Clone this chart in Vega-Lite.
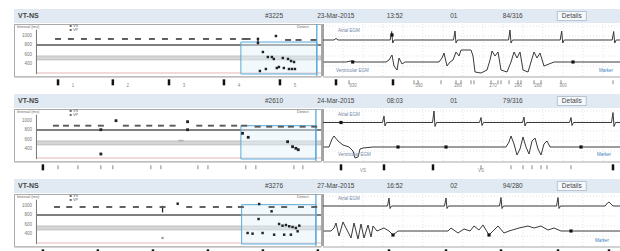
{
"$schema": "https://vega.github.io/schema/vega-lite/v6.json",
"padding": {"left": 13, "top": 9, "right": 0, "bottom": 0},
"background": "white",
"columns": 2,
"spacing": {"row": 1, "column": 0},
"bounds": "flush",
"config": {"view": {"stroke": null}, "text": {"font": "Liberation Sans"}, "line": {"strokeJoin": "round", "strokeCap": "round"}},
"datasets": {
"hdr": [
{"row":1,"col":"type","text":"VT-NS"},{"row":1,"col":"id","text":"#3225"},{"row":1,"col":"date","text":"23-Mar-2015"},{"row":1,"col":"time","text":"13:52"},{"row":1,"col":"zone","text":"01"},{"row":1,"col":"cycle","text":"84/316"},{"row":1,"col":"details","text":"Details"},
{"row":2,"col":"type","text":"VT-NS"},{"row":2,"col":"id","text":"#2610"},{"row":2,"col":"date","text":"24-Mar-2015"},{"row":2,"col":"time","text":"08:03"},{"row":2,"col":"zone","text":"01"},{"row":2,"col":"cycle","text":"79/316"},{"row":2,"col":"details","text":"Details"},
{"row":3,"col":"type","text":"VT-NS"},{"row":3,"col":"id","text":"#3276"},{"row":3,"col":"date","text":"27-Mar-2015"},{"row":3,"col":"time","text":"16:52"},{"row":3,"col":"zone","text":"02"},{"row":3,"col":"cycle","text":"94/280"},{"row":3,"col":"details","text":"Details"}
],
"pts": [
{"row":1,"t":1.44,"ms":933,"k":"d"},{"row":1,"t":2.3,"ms":933,"k":"d"},{"row":1,"t":3.17,"ms":933,"k":"d"},{"row":1,"t":4.1,"ms":933,"k":"d"},{"row":1,"t":4.97,"ms":933,"k":"d"},{"row":1,"t":5.91,"ms":933,"k":"d"},{"row":1,"t":6.78,"ms":933,"k":"d"},{"row":1,"t":7.71,"ms":933,"k":"d"},{"row":1,"t":8.58,"ms":933,"k":"d"},{"row":1,"t":9.51,"ms":933,"k":"d"},{"row":1,"t":10.38,"ms":933,"k":"d"},{"row":1,"t":11.32,"ms":933,"k":"d"},{"row":1,"t":12.18,"ms":933,"k":"d"},{"row":1,"t":13.12,"ms":933,"k":"d"},{"row":1,"t":13.9,"ms":933,"k":"d"},{"row":1,"t":14.1,"ms":933,"k":"d"},{"row":1,"t":16.8,"ms":912,"k":"d"},{"row":1,"t":17.5,"ms":912,"k":"d"},{"row":1,"t":18.5,"ms":912,"k":"d"},
{"row":1,"t":14.79,"ms":933,"k":"p"},{"row":1,"t":14.79,"ms":848,"k":"p"},{"row":1,"t":15.99,"ms":996,"k":"p"},{"row":1,"t":15.12,"ms":658,"k":"p"},{"row":1,"t":15.45,"ms":552,"k":"p"},{"row":1,"t":15.72,"ms":552,"k":"p"},{"row":1,"t":15.85,"ms":510,"k":"p"},{"row":1,"t":16.45,"ms":531,"k":"p"},{"row":1,"t":16.8,"ms":510,"k":"p"},{"row":1,"t":17.0,"ms":467,"k":"p"},{"row":1,"t":17.2,"ms":446,"k":"p"},{"row":1,"t":14.92,"ms":256,"k":"p"},{"row":1,"t":15.32,"ms":298,"k":"p"},{"row":1,"t":16.05,"ms":319,"k":"p"},{"row":1,"t":16.19,"ms":341,"k":"p"},{"row":1,"t":16.52,"ms":319,"k":"p"},{"row":1,"t":16.86,"ms":298,"k":"p"},{"row":1,"t":17.06,"ms":298,"k":"p"},{"row":1,"t":17.26,"ms":298,"k":"p"},
{"row":2,"t":1.3,"ms":897,"k":"d"},{"row":2,"t":1.97,"ms":897,"k":"d"},{"row":2,"t":2.7,"ms":897,"k":"d"},{"row":2,"t":3.46,"ms":897,"k":"d"},{"row":2,"t":4.3,"ms":897,"k":"d"},{"row":2,"t":5.97,"ms":897,"k":"d"},{"row":2,"t":6.76,"ms":897,"k":"d"},{"row":2,"t":7.53,"ms":897,"k":"d"},{"row":2,"t":8.31,"ms":897,"k":"d"},{"row":2,"t":9.09,"ms":897,"k":"d"},{"row":2,"t":10.87,"ms":897,"k":"d"},{"row":2,"t":11.65,"ms":897,"k":"d"},{"row":2,"t":12.43,"ms":897,"k":"d"},{"row":2,"t":13.2,"ms":897,"k":"d"},{"row":2,"t":13.87,"ms":897,"k":"d"},{"row":2,"t":14.77,"ms":876,"k":"d"},{"row":2,"t":15.54,"ms":876,"k":"d"},{"row":2,"t":16.32,"ms":876,"k":"d"},{"row":2,"t":16.99,"ms":876,"k":"d"},{"row":2,"t":17.77,"ms":876,"k":"d"},{"row":2,"t":18.55,"ms":876,"k":"d"},
{"row":2,"t":5.31,"ms":1003,"k":"p"},{"row":2,"t":10.09,"ms":981,"k":"p"},{"row":2,"t":4.3,"ms":812,"k":"p"},{"row":2,"t":10.09,"ms":812,"k":"p"},{"row":2,"t":13.76,"ms":736,"k":"p"},{"row":2,"t":14.14,"ms":651,"k":"p"},{"row":2,"t":4.3,"ms":298,"k":"p"},{"row":2,"t":16.77,"ms":558,"k":"p"},{"row":2,"t":17.1,"ms":453,"k":"p"},{"row":2,"t":17.32,"ms":419,"k":"p"},{"row":2,"t":17.48,"ms":389,"k":"p"},{"row":2,"t":9.65,"ms":580,"k":"g"},
{"row":3,"t":1.37,"ms":975,"k":"d"},{"row":3,"t":2.19,"ms":975,"k":"d"},{"row":3,"t":3.08,"ms":975,"k":"d"},{"row":3,"t":3.97,"ms":975,"k":"d"},{"row":3,"t":4.86,"ms":975,"k":"d"},{"row":3,"t":5.75,"ms":975,"k":"d"},{"row":3,"t":6.64,"ms":975,"k":"d"},{"row":3,"t":7.53,"ms":975,"k":"d"},{"row":3,"t":8.42,"ms":975,"k":"d"},{"row":3,"t":10.2,"ms":975,"k":"d"},{"row":3,"t":11.09,"ms":975,"k":"d"},{"row":3,"t":11.98,"ms":975,"k":"d"},{"row":3,"t":12.87,"ms":975,"k":"d"},{"row":3,"t":13.65,"ms":975,"k":"d"},{"row":3,"t":15.7,"ms":975,"k":"d"},{"row":3,"t":16.54,"ms":975,"k":"d"},{"row":3,"t":17.66,"ms":975,"k":"d"},{"row":3,"t":18.55,"ms":975,"k":"d"},
{"row":3,"t":9.43,"ms":1045,"k":"p"},{"row":3,"t":14.87,"ms":1038,"k":"p"},{"row":3,"t":15.7,"ms":884,"k":"p"},{"row":3,"t":14.83,"ms":721,"k":"p"},{"row":3,"t":16.2,"ms":616,"k":"p"},{"row":3,"t":16.43,"ms":580,"k":"p"},{"row":3,"t":16.66,"ms":594,"k":"p"},{"row":3,"t":16.88,"ms":567,"k":"p"},{"row":3,"t":17.1,"ms":552,"k":"p"},{"row":3,"t":17.32,"ms":531,"k":"p"},{"row":3,"t":17.55,"ms":580,"k":"p"},{"row":3,"t":14.1,"ms":425,"k":"p"},{"row":3,"t":14.43,"ms":411,"k":"p"},{"row":3,"t":15.1,"ms":425,"k":"p"},{"row":3,"t":15.87,"ms":389,"k":"p"},{"row":3,"t":16.54,"ms":389,"k":"p"},{"row":3,"t":16.99,"ms":389,"k":"p"},{"row":3,"t":17.44,"ms":461,"k":"p"},{"row":3,"t":8.42,"ms":319,"k":"g"}
],
"vbars": [{"row":1,"t":14.79,"lo":840,"hi":960},{"row":3,"t":8.42,"lo":860,"hi":1000}],
"box": [{"row":1,"t0":13.65,"t1":18.72,"lo":192,"hi":869},{"row":2,"t0":13.65,"t1":18.66,"lo":192,"hi":897},{"row":3,"t0":13.7,"t1":18.66,"lo":192,"hi":1024}],
"zones": [{"kind":"band","lo":490,"hi":575},{"kind":"dark","ms":806},{"kind":"pink","ms":214}],
"ylab": [{"ms":1000},{"ms":800},{"ms":600},{"ms":400}],
"plab": [{"t":-1.3,"ms":1190,"text":"Interval (ms)"},{"t":2.2,"ms":1208,"text":"■ VS"},{"t":2.2,"ms":1118,"text":"■ VP"},{"t":17.4,"ms":1190,"text":"Detect"}],
"edge": [{"t":0}],
"grid": [{"dir":"v","t":200},{"dir":"v","t":400},{"dir":"v","t":600},{"dir":"v","t":800},{"dir":"v","t":1000},{"dir":"v","t":1200},{"dir":"v","t":1400},{"dir":"v","t":1600},{"dir":"v","t":1800},{"dir":"v","t":2000},{"dir":"v","t":2200},{"dir":"v","t":2400},{"dir":"v","t":2600},{"dir":"v","t":2800},{"dir":"h","v":1},{"dir":"h","v":2},{"dir":"h","v":3},{"dir":"h","v":4},{"dir":"h","v":5}],
"egm": [
{"row":1,"ch":"A","t":0,"v":3.6},{"row":1,"ch":"A","t":110,"v":3.6},{"row":1,"ch":"A","t":130,"v":3.75},{"row":1,"ch":"A","t":150,"v":3.6},{"row":1,"ch":"A","t":672,"v":3.6},{"row":1,"ch":"A","t":687,"v":4.45},{"row":1,"ch":"A","t":697,"v":3.3},{"row":1,"ch":"A","t":712,"v":3.6},{"row":1,"ch":"A","t":1305,"v":3.6},{"row":1,"ch":"A","t":1320,"v":4.5},{"row":1,"ch":"A","t":1330,"v":3.3},{"row":1,"ch":"A","t":1345,"v":3.6},{"row":1,"ch":"A","t":1855,"v":3.6},{"row":1,"ch":"A","t":1870,"v":4.6},{"row":1,"ch":"A","t":1880,"v":3.3},{"row":1,"ch":"A","t":1895,"v":3.6},{"row":1,"ch":"A","t":2372,"v":3.6},{"row":1,"ch":"A","t":2387,"v":4.5},{"row":1,"ch":"A","t":2397,"v":3.3},{"row":1,"ch":"A","t":2412,"v":3.6},{"row":1,"ch":"A","t":2892,"v":3.6},{"row":1,"ch":"A","t":2907,"v":4.45},{"row":1,"ch":"A","t":2917,"v":3.3},{"row":1,"ch":"A","t":2932,"v":3.6},{"row":1,"ch":"A","t":2980,"v":3.6},
{"row":1,"ch":"V","t":10,"v":1.4},{"row":1,"ch":"V","t":230,"v":1.4},{"row":1,"ch":"V","t":280,"v":1.5},{"row":1,"ch":"V","t":330,"v":1.4},{"row":1,"ch":"V","t":630,"v":1.4},{"row":1,"ch":"V","t":660,"v":1.6},{"row":1,"ch":"V","t":690,"v":2.1},{"row":1,"ch":"V","t":710,"v":1.0},{"row":1,"ch":"V","t":740,"v":0.6},{"row":1,"ch":"V","t":760,"v":1.8},{"row":1,"ch":"V","t":790,"v":1.2},{"row":1,"ch":"V","t":820,"v":1.4},{"row":1,"ch":"V","t":1160,"v":1.4},{"row":1,"ch":"V","t":1190,"v":1.8},{"row":1,"ch":"V","t":1210,"v":2.3},{"row":1,"ch":"V","t":1240,"v":1.0},{"row":1,"ch":"V","t":1270,"v":1.4},{"row":1,"ch":"V","t":1300,"v":1.6},{"row":1,"ch":"V","t":1330,"v":2.4},{"row":1,"ch":"V","t":1360,"v":2.0},{"row":1,"ch":"V","t":1380,"v":2.6},{"row":1,"ch":"V","t":1430,"v":2.6},{"row":1,"ch":"V","t":1480,"v":2.6},{"row":1,"ch":"V","t":1500,"v":2.0},{"row":1,"ch":"V","t":1520,"v":0.4},{"row":1,"ch":"V","t":1580,"v":0.3},{"row":1,"ch":"V","t":1640,"v":0.6},{"row":1,"ch":"V","t":1670,"v":1.6},{"row":1,"ch":"V","t":1690,"v":2.5},{"row":1,"ch":"V","t":1720,"v":2.0},{"row":1,"ch":"V","t":1750,"v":2.4},{"row":1,"ch":"V","t":1780,"v":0.6},{"row":1,"ch":"V","t":1840,"v":0.4},{"row":1,"ch":"V","t":1880,"v":1.4},{"row":1,"ch":"V","t":1910,"v":2.4},{"row":1,"ch":"V","t":1940,"v":1.8},{"row":1,"ch":"V","t":1970,"v":2.4},{"row":1,"ch":"V","t":2000,"v":0.6},{"row":1,"ch":"V","t":2050,"v":0.4},{"row":1,"ch":"V","t":2080,"v":1.4},{"row":1,"ch":"V","t":2110,"v":2.4},{"row":1,"ch":"V","t":2140,"v":1.8},{"row":1,"ch":"V","t":2170,"v":2.3},{"row":1,"ch":"V","t":2210,"v":1.0},{"row":1,"ch":"V","t":2260,"v":1.2},{"row":1,"ch":"V","t":2310,"v":1.4},{"row":1,"ch":"V","t":2980,"v":1.4},
{"row":2,"ch":"A","t":0,"v":3.85},{"row":2,"ch":"A","t":595,"v":3.85},{"row":2,"ch":"A","t":610,"v":4.5},{"row":2,"ch":"A","t":620,"v":3.5},{"row":2,"ch":"A","t":635,"v":3.85},{"row":2,"ch":"A","t":1095,"v":3.85},{"row":2,"ch":"A","t":1110,"v":5.0},{"row":2,"ch":"A","t":1120,"v":3.45},{"row":2,"ch":"A","t":1135,"v":3.85},{"row":2,"ch":"A","t":1565,"v":3.85},{"row":2,"ch":"A","t":1580,"v":4.35},{"row":2,"ch":"A","t":1590,"v":3.55},{"row":2,"ch":"A","t":1605,"v":3.85},{"row":2,"ch":"A","t":1995,"v":3.85},{"row":2,"ch":"A","t":2010,"v":4.4},{"row":2,"ch":"A","t":2020,"v":3.5},{"row":2,"ch":"A","t":2035,"v":3.85},{"row":2,"ch":"A","t":2465,"v":3.85},{"row":2,"ch":"A","t":2480,"v":4.35},{"row":2,"ch":"A","t":2490,"v":3.55},{"row":2,"ch":"A","t":2505,"v":3.85},{"row":2,"ch":"A","t":2885,"v":3.85},{"row":2,"ch":"A","t":2900,"v":4.85},{"row":2,"ch":"A","t":2910,"v":3.45},{"row":2,"ch":"A","t":2925,"v":3.85},{"row":2,"ch":"A","t":2980,"v":3.85},
{"row":2,"ch":"V","t":10,"v":1.4},{"row":2,"ch":"V","t":60,"v":1.4},{"row":2,"ch":"V","t":90,"v":2.2},{"row":2,"ch":"V","t":110,"v":2.5},{"row":2,"ch":"V","t":150,"v":2.0},{"row":2,"ch":"V","t":200,"v":1.6},{"row":2,"ch":"V","t":260,"v":1.4},{"row":2,"ch":"V","t":300,"v":1.0},{"row":2,"ch":"V","t":320,"v":0.3},{"row":2,"ch":"V","t":350,"v":0.4},{"row":2,"ch":"V","t":370,"v":1.2},{"row":2,"ch":"V","t":400,"v":1.3},{"row":2,"ch":"V","t":500,"v":1.4},{"row":2,"ch":"V","t":1830,"v":1.4},{"row":2,"ch":"V","t":1860,"v":1.9},{"row":2,"ch":"V","t":1880,"v":2.5},{"row":2,"ch":"V","t":1910,"v":1.7},{"row":2,"ch":"V","t":1940,"v":0.6},{"row":2,"ch":"V","t":1970,"v":1.2},{"row":2,"ch":"V","t":2000,"v":2.4},{"row":2,"ch":"V","t":2030,"v":1.4},{"row":2,"ch":"V","t":2060,"v":0.7},{"row":2,"ch":"V","t":2090,"v":2.0},{"row":2,"ch":"V","t":2120,"v":2.3},{"row":2,"ch":"V","t":2150,"v":1.2},{"row":2,"ch":"V","t":2180,"v":0.6},{"row":2,"ch":"V","t":2210,"v":1.7},{"row":2,"ch":"V","t":2240,"v":2.0},{"row":2,"ch":"V","t":2270,"v":1.4},{"row":2,"ch":"V","t":2980,"v":1.4},
{"row":3,"ch":"A","t":0,"v":4.0},{"row":3,"ch":"A","t":645,"v":4.0},{"row":3,"ch":"A","t":660,"v":4.8},{"row":3,"ch":"A","t":670,"v":3.75},{"row":3,"ch":"A","t":685,"v":4.0},{"row":3,"ch":"A","t":1215,"v":4.0},{"row":3,"ch":"A","t":1230,"v":4.8},{"row":3,"ch":"A","t":1240,"v":3.75},{"row":3,"ch":"A","t":1255,"v":4.0},{"row":3,"ch":"A","t":1765,"v":4.0},{"row":3,"ch":"A","t":1780,"v":4.85},{"row":3,"ch":"A","t":1790,"v":3.75},{"row":3,"ch":"A","t":1805,"v":4.0},{"row":3,"ch":"A","t":2335,"v":4.0},{"row":3,"ch":"A","t":2350,"v":4.85},{"row":3,"ch":"A","t":2360,"v":3.75},{"row":3,"ch":"A","t":2375,"v":4.0},{"row":3,"ch":"A","t":2820,"v":4.0},{"row":3,"ch":"A","t":2845,"v":4.3},{"row":3,"ch":"A","t":2860,"v":4.4},{"row":3,"ch":"A","t":2880,"v":4.2},{"row":3,"ch":"A","t":2900,"v":4.0},{"row":3,"ch":"A","t":2980,"v":4.0},
{"row":3,"ch":"V","t":10,"v":1.5},{"row":3,"ch":"V","t":80,"v":1.5},{"row":3,"ch":"V","t":110,"v":1.8},{"row":3,"ch":"V","t":130,"v":2.3},{"row":3,"ch":"V","t":160,"v":1.0},{"row":3,"ch":"V","t":200,"v":2.4},{"row":3,"ch":"V","t":230,"v":1.8},{"row":3,"ch":"V","t":280,"v":0.8},{"row":3,"ch":"V","t":310,"v":2.3},{"row":3,"ch":"V","t":350,"v":0.7},{"row":3,"ch":"V","t":380,"v":2.2},{"row":3,"ch":"V","t":410,"v":0.8},{"row":3,"ch":"V","t":450,"v":2.1},{"row":3,"ch":"V","t":480,"v":0.9},{"row":3,"ch":"V","t":500,"v":2.0},{"row":3,"ch":"V","t":540,"v":1.5},{"row":3,"ch":"V","t":610,"v":1.8},{"row":3,"ch":"V","t":660,"v":1.5},{"row":3,"ch":"V","t":700,"v":1.1},{"row":3,"ch":"V","t":750,"v":1.5},{"row":3,"ch":"V","t":1250,"v":1.5},{"row":3,"ch":"V","t":1280,"v":1.8},{"row":3,"ch":"V","t":1350,"v":1.3},{"row":3,"ch":"V","t":1410,"v":1.7},{"row":3,"ch":"V","t":1470,"v":1.5},{"row":3,"ch":"V","t":1510,"v":2.0},{"row":3,"ch":"V","t":1560,"v":1.6},{"row":3,"ch":"V","t":1600,"v":2.1},{"row":3,"ch":"V","t":1660,"v":1.1},{"row":3,"ch":"V","t":1700,"v":1.5},{"row":3,"ch":"V","t":1750,"v":2.0},{"row":3,"ch":"V","t":1810,"v":1.3},{"row":3,"ch":"V","t":1860,"v":1.5},{"row":3,"ch":"V","t":1960,"v":1.8},{"row":3,"ch":"V","t":2050,"v":2.0},{"row":3,"ch":"V","t":2110,"v":1.8},{"row":3,"ch":"V","t":2180,"v":2.0},{"row":3,"ch":"V","t":2250,"v":1.6},{"row":3,"ch":"V","t":2310,"v":1.8},{"row":3,"ch":"V","t":2380,"v":1.5},{"row":3,"ch":"V","t":2980,"v":1.5}
],
"dots": [{"row":1,"t":297,"v":1.4},{"row":1,"t":2500,"v":1.4},{"row":1,"t":690,"v":4.1},{"row":2,"t":750,"v":1.4},{"row":2,"t":1230,"v":1.4},{"row":2,"t":2580,"v":1.4},{"row":2,"t":180,"v":3.85},{"row":3,"t":700,"v":1.1},{"row":3,"t":1660,"v":1.1},{"row":3,"t":2480,"v":1.5}],
"elab": [
{"row":1,"t":150,"v":4.5,"text":"Atrial EGM","k":"l"},{"row":1,"t":130,"v":0.5,"text":"Ventricular EGM","k":"l"},{"row":1,"t":2900,"v":0.5,"text":"Marker","k":"r"},
{"row":2,"t":150,"v":4.6,"text":"Atrial EGM","k":"l"},{"row":2,"t":150,"v":0.6,"text":"Ventricular EGM","k":"l"},{"row":2,"t":2880,"v":0.6,"text":"Marker","k":"r"},
{"row":3,"t":150,"v":4.7,"text":"Atrial EGM","k":"l"},{"row":3,"t":2860,"v":0.5,"text":"Marker","k":"r"}
],
"mk": [
{"row":1,"side":"L","t":1.44,"k":"b"},{"row":1,"side":"L","t":5.1,"k":"b"},{"row":1,"side":"L","t":8.85,"k":"b"},{"row":1,"side":"L","t":12.52,"k":"b"},{"row":1,"side":"L","t":16.26,"k":"b"},
{"row":1,"side":"L","t":2.44,"k":"n","lab":"1"},{"row":1,"side":"L","t":6.1,"k":"n","lab":"2"},{"row":1,"side":"L","t":9.85,"k":"n","lab":"3"},{"row":1,"side":"L","t":13.52,"k":"n","lab":"4"},{"row":1,"side":"L","t":17.26,"k":"n","lab":"5"},
{"row":1,"side":"R","t":130,"k":"b"},{"row":1,"side":"R","t":700,"k":"b"},{"row":1,"side":"R","t":260,"k":"g"},{"row":1,"side":"R","t":910,"k":"g"},{"row":1,"side":"R","t":950,"k":"g"},{"row":1,"side":"R","t":1180,"k":"g"},{"row":1,"side":"R","t":1330,"k":"g"},{"row":1,"side":"R","t":1380,"k":"g"},{"row":1,"side":"R","t":1480,"k":"g"},{"row":1,"side":"R","t":1510,"k":"g"},{"row":1,"side":"R","t":1680,"k":"g"},{"row":1,"side":"R","t":1750,"k":"g"},{"row":1,"side":"R","t":1780,"k":"g"},{"row":1,"side":"R","t":1860,"k":"g"},{"row":1,"side":"R","t":1950,"k":"g"},{"row":1,"side":"R","t":1980,"k":"g"},{"row":1,"side":"R","t":2110,"k":"g"},{"row":1,"side":"R","t":2180,"k":"g"},{"row":1,"side":"R","t":2380,"k":"g"},{"row":1,"side":"R","t":2900,"k":"g"},
{"row":1,"side":"R","t":300,"k":"n","lab":"930"},{"row":1,"side":"R","t":960,"k":"n","lab":"590"},{"row":1,"side":"R","t":1350,"k":"n","lab":"280"},{"row":1,"side":"R","t":1700,"k":"n","lab":"270"},{"row":1,"side":"R","t":1950,"k":"n","lab":"290"},{"row":1,"side":"R","t":2150,"k":"n","lab":"280"},{"row":1,"side":"R","t":2400,"k":"n","lab":"300"},
{"row":2,"side":"L","t":0.43,"k":"b"},{"row":2,"side":"L","t":1.44,"k":"g"},{"row":2,"side":"L","t":2.77,"k":"g"},{"row":2,"side":"L","t":4.3,"k":"g"},{"row":2,"side":"L","t":5.1,"k":"g"},{"row":2,"side":"L","t":7.64,"k":"g"},{"row":2,"side":"L","t":8.31,"k":"g"},{"row":2,"side":"L","t":10.78,"k":"g"},{"row":2,"side":"L","t":11.45,"k":"g"},{"row":2,"side":"L","t":13.98,"k":"g"},{"row":2,"side":"L","t":14.65,"k":"g"},{"row":2,"side":"L","t":17.19,"k":"g"},{"row":2,"side":"L","t":17.79,"k":"g"},
{"row":2,"side":"R","t":180,"k":"b"},{"row":2,"side":"R","t":610,"k":"b"},{"row":2,"side":"R","t":1100,"k":"b"},{"row":2,"side":"R","t":2900,"k":"b"},{"row":2,"side":"R","t":1580,"k":"g"},{"row":2,"side":"R","t":1880,"k":"g"},{"row":2,"side":"R","t":2000,"k":"g"},{"row":2,"side":"R","t":2090,"k":"g"},{"row":2,"side":"R","t":2180,"k":"g"},{"row":2,"side":"R","t":2240,"k":"g"},{"row":2,"side":"R","t":2480,"k":"g"},
{"row":2,"side":"R","t":400,"k":"n","lab":"VS"},{"row":2,"side":"R","t":1580,"k":"n","lab":"VS"},
{"row":3,"side":"L","t":0.43,"k":"b"},{"row":3,"side":"L","t":4.1,"k":"b"},{"row":3,"side":"L","t":7.78,"k":"b"},{"row":3,"side":"L","t":11.45,"k":"b"},{"row":3,"side":"L","t":15.12,"k":"b"},{"row":3,"side":"L","t":18.79,"k":"b"},
{"row":3,"side":"R","t":660,"k":"b"},{"row":3,"side":"R","t":1230,"k":"b"},{"row":3,"side":"R","t":1780,"k":"b"},{"row":3,"side":"R","t":2350,"k":"b"},{"row":3,"side":"R","t":2860,"k":"b"}
]
},
"concat": [
 {"width": 309, "height": 14, "view": {"fill": "#e1eaf3"}, "data": {"name": "hdr"}, "transform": [{"filter": "datum.row == 1 && (datum.col == 'type' || datum.col == 'id')"}],
  "encoding": {"x": {"field": "col", "type": "nominal", "scale": {"type": "point", "domain": ["type","id"], "padding": 0.1035, "align": 0.0755}, "axis": null}},
  "layer": [
   {"transform": [{"filter": "datum.col == 'type'"}], "mark": {"type": "text", "align": "left", "fontSize": 7, "fontWeight": "bold", "color": "#444"}, "encoding": {"text": {"field": "text"}}},
   {"transform": [{"filter": "datum.col == 'id'"}], "mark": {"type": "text", "fontSize": 6.5, "color": "#444"}, "encoding": {"text": {"field": "text"}}}
  ]},
 {"width": 298, "height": 14, "view": {"fill": "#e1eaf3"}, "data": {"name": "hdr"}, "transform": [{"filter": "datum.row == 1 && datum.col != 'type' && datum.col != 'id'"}],
  "encoding": {"x": {"field": "col", "type": "nominal", "scale": {"type": "point", "domain": ["date","time","zone","cycle","details"], "padding": 0.525, "align": 0.206}, "axis": null}},
  "layer": [
   {"transform": [{"filter": "datum.col == 'details'"}], "mark": {"type": "point", "shape": "M-1,-0.31H1V0.31H-1Z", "size": 841, "filled": true, "fill": "#f6f9fc", "stroke": "#9fb0c2", "strokeWidth": 0.7, "opacity": 1}},
   {"mark": {"type": "text", "fontSize": 6.5, "color": "#444"}, "encoding": {"text": {"field": "text"}}}
  ]},
 {"width": 307, "height": 52, "view": {"stroke": "#a9a9a9"},
  "layer": [
   {"data": {"name": "zones"}, "transform": [{"filter": "datum.kind == 'band'"}], "mark": {"type": "rect", "fill": "#d6d6d6", "stroke": "#aaaaaa", "strokeWidth": 0.6},
    "encoding": {"x": {"datum": 0, "type": "quantitative", "scale": {"domain": [-1.5, 19], "nice": false, "zero": false}, "axis": null}, "x2": {"datum": 19}, "y": {"field": "lo", "type": "quantitative", "scale": {"domain": [150, 1250], "nice": false, "zero": false}, "axis": null}, "y2": {"field": "hi"}}},
   {"data": {"name": "zones"}, "transform": [{"filter": "datum.kind == 'dark'"}], "mark": {"type": "rule", "color": "#555", "strokeWidth": 1.5},
    "encoding": {"x": {"datum": 0, "type": "quantitative", "axis": null}, "x2": {"datum": 19}, "y": {"field": "ms", "type": "quantitative", "axis": null}}},
   {"data": {"name": "zones"}, "transform": [{"filter": "datum.kind == 'pink'"}], "mark": {"type": "rule", "color": "#e6b5b5", "strokeWidth": 1},
    "encoding": {"x": {"datum": 0, "type": "quantitative", "axis": null}, "x2": {"datum": 19}, "y": {"field": "ms", "type": "quantitative", "axis": null}}},
   {"data": {"name": "edge"}, "mark": {"type": "rule", "color": "#777", "strokeWidth": 1},
    "encoding": {"x": {"field": "t", "type": "quantitative", "axis": null}, "y": {"datum": 190, "type": "quantitative", "axis": null}, "y2": {"datum": 1130}}},
   {"data": {"name": "ylab"}, "mark": {"type": "text", "align": "right", "fontSize": 4.5, "color": "#777"},
    "encoding": {"x": {"datum": -0.3, "type": "quantitative", "axis": null}, "y": {"field": "ms", "type": "quantitative", "axis": null}, "text": {"field": "ms"}}},
   {"data": {"name": "plab"}, "mark": {"type": "text", "align": "left", "fontSize": 4, "color": "#666"},
    "encoding": {"x": {"field": "t", "type": "quantitative", "axis": null}, "y": {"field": "ms", "type": "quantitative", "axis": null}, "text": {"field": "text"}}},
   {"data": {"name": "box"}, "transform": [{"filter": "datum.row == 1"}], "mark": {"type": "rect", "fill": "#e3f1fb", "fillOpacity": 0.45, "stroke": "#5aaad9", "strokeWidth": 1},
    "encoding": {"x": {"field": "t0", "type": "quantitative", "axis": null}, "x2": {"field": "t1"}, "y": {"field": "lo", "type": "quantitative", "axis": null}, "y2": {"field": "hi"}}},
   {"data": {"name": "box"}, "transform": [{"filter": "datum.row == 1"}], "mark": {"type": "rule", "color": "#5aaad9", "strokeWidth": 1.3},
    "encoding": {"x": {"field": "t1", "type": "quantitative", "axis": null}}},
   {"data": {"name": "vbars"}, "transform": [{"filter": "datum.row == 1"}], "mark": {"type": "rule", "color": "#222", "strokeWidth": 1.3},
    "encoding": {"x": {"field": "t", "type": "quantitative", "axis": null}, "y": {"field": "lo", "type": "quantitative", "axis": null}, "y2": {"field": "hi"}}},
   {"data": {"name": "pts"}, "transform": [{"filter": "datum.row == 1 && datum.k == 'd'"}], "mark": {"type": "point", "shape": "M-1,-0.32H1V0.32H-1Z", "size": 36, "filled": true, "color": "#5a5a5a", "opacity": 1},
    "encoding": {"x": {"field": "t", "type": "quantitative", "axis": null}, "y": {"field": "ms", "type": "quantitative", "axis": null}}},
   {"data": {"name": "pts"}, "transform": [{"filter": "datum.row == 1 && datum.k == 'p'"}], "mark": {"type": "point", "shape": "square", "size": 6, "filled": true, "color": "#222", "opacity": 1},
    "encoding": {"x": {"field": "t", "type": "quantitative", "axis": null}, "y": {"field": "ms", "type": "quantitative", "axis": null}}}
  ]},
 {"width": 298, "height": 52,
  "layer": [
   {"data": {"name": "grid"}, "transform": [{"filter": "datum.dir == 'v'"}], "mark": {"type": "rule", "color": "#e4e4e4", "strokeDash": [1, 2]},
    "encoding": {"x": {"field": "t", "type": "quantitative", "scale": {"domain": [0, 2980], "nice": false, "zero": false}, "axis": null}}},
   {"data": {"name": "grid"}, "transform": [{"filter": "datum.dir == 'h'"}], "mark": {"type": "rule", "color": "#e4e4e4", "strokeDash": [1, 2]},
    "encoding": {"y": {"field": "v", "type": "quantitative", "scale": {"domain": [0, 5.2], "nice": false, "zero": false}, "axis": null}}},
   {"data": {"name": "edge"}, "mark": {"type": "rule", "color": "#666", "strokeWidth": 1.2},
    "encoding": {"x": {"field": "t", "type": "quantitative", "axis": null}}},
   {"data": {"name": "egm"}, "transform": [{"filter": "datum.row == 1"}], "mark": {"type": "line", "color": "#3a3a3a", "strokeWidth": 1, "clip": true},
    "encoding": {"x": {"field": "t", "type": "quantitative", "axis": null}, "y": {"field": "v", "type": "quantitative", "axis": null}, "detail": {"field": "ch"}}},
   {"data": {"name": "dots"}, "transform": [{"filter": "datum.row == 1"}], "mark": {"type": "point", "shape": "square", "size": 10, "filled": true, "color": "#111", "opacity": 1},
    "encoding": {"x": {"field": "t", "type": "quantitative", "axis": null}, "y": {"field": "v", "type": "quantitative", "axis": null}}},
   {"data": {"name": "elab"}, "transform": [{"filter": "datum.row == 1 && datum.k == 'l'"}], "mark": {"type": "text", "align": "left", "fontSize": 4.5, "color": "#6f86a6"},
    "encoding": {"x": {"field": "t", "type": "quantitative", "axis": null}, "y": {"field": "v", "type": "quantitative", "axis": null}, "text": {"field": "text"}}},
   {"data": {"name": "elab"}, "transform": [{"filter": "datum.row == 1 && datum.k == 'r'"}], "mark": {"type": "text", "align": "right", "fontSize": 4.5, "color": "#3d7fc0"},
    "encoding": {"x": {"field": "t", "type": "quantitative", "axis": null}, "y": {"field": "v", "type": "quantitative", "axis": null}, "text": {"field": "text"}}}
  ]},
 {"width": 307, "height": 16, "layer": [
   {"data": {"values": [{"lane": "top"}]}, "mark": {"type": "rule", "color": "#c4c4c4", "strokeWidth": 1.5},
    "encoding": {"y": {"field": "lane", "type": "nominal", "scale": {"type": "point", "domain": ["top","tick","num","pad"], "padding": 0}, "axis": null}}},
   {"data": {"name": "mk"}, "transform": [{"filter": "datum.row == 1 && datum.side == 'L' && datum.k == 'b'"}], "mark": {"type": "tick", "color": "#111", "size": 6, "thickness": 2.5, "opacity": 1},
    "encoding": {"x": {"field": "t", "type": "quantitative", "scale": {"domain": [-1.5, 19], "nice": false, "zero": false}, "axis": null}, "y": {"datum": "tick", "type": "nominal", "axis": null}}},
   {"data": {"name": "mk"}, "transform": [{"filter": "datum.row == 1 && datum.side == 'L' && datum.k == 'n'"}], "mark": {"type": "text", "color": "#888", "fontSize": 4.5, "baseline": "bottom"},
    "encoding": {"x": {"field": "t", "type": "quantitative", "axis": null}, "y": {"datum": "num", "type": "nominal", "axis": null}, "text": {"field": "lab"}}}
 ]},
 {"width": 298, "height": 16, "layer": [
   {"data": {"values": [{"lane": "top"}]}, "mark": {"type": "rule", "color": "#c4c4c4", "strokeWidth": 1.5},
    "encoding": {"y": {"field": "lane", "type": "nominal", "scale": {"type": "point", "domain": ["top","tick","num","pad"], "padding": 0}, "axis": null}}},
   {"data": {"name": "mk"}, "transform": [{"filter": "datum.row == 1 && datum.side == 'R' && datum.k == 'b'"}], "mark": {"type": "tick", "color": "#111", "size": 6, "thickness": 2.5, "opacity": 1},
    "encoding": {"x": {"field": "t", "type": "quantitative", "scale": {"domain": [0, 2980], "nice": false, "zero": false}, "axis": null}, "y": {"datum": "tick", "type": "nominal", "axis": null}}},
   {"data": {"name": "mk"}, "transform": [{"filter": "datum.row == 1 && datum.side == 'R' && datum.k == 'g'"}], "mark": {"type": "tick", "color": "#888", "size": 4, "thickness": 1, "opacity": 1},
    "encoding": {"x": {"field": "t", "type": "quantitative", "axis": null}, "y": {"datum": "tick", "type": "nominal", "axis": null}}},
   {"data": {"name": "mk"}, "transform": [{"filter": "datum.row == 1 && datum.side == 'R' && datum.k == 'n'"}], "mark": {"type": "text", "color": "#888", "fontSize": 4.5, "baseline": "bottom"},
    "encoding": {"x": {"field": "t", "type": "quantitative", "axis": null}, "y": {"datum": "num", "type": "nominal", "axis": null}, "text": {"field": "lab"}}}
 ]},

 {"width": 309, "height": 14, "view": {"fill": "#e1eaf3"}, "data": {"name": "hdr"}, "transform": [{"filter": "datum.row == 2 && (datum.col == 'type' || datum.col == 'id')"}],
  "encoding": {"x": {"field": "col", "type": "nominal", "scale": {"type": "point", "domain": ["type","id"], "padding": 0.1035, "align": 0.0755}, "axis": null}},
  "layer": [
   {"transform": [{"filter": "datum.col == 'type'"}], "mark": {"type": "text", "align": "left", "fontSize": 7, "fontWeight": "bold", "color": "#444"}, "encoding": {"text": {"field": "text"}}},
   {"transform": [{"filter": "datum.col == 'id'"}], "mark": {"type": "text", "fontSize": 6.5, "color": "#444"}, "encoding": {"text": {"field": "text"}}}
  ]},
 {"width": 298, "height": 14, "view": {"fill": "#e1eaf3"}, "data": {"name": "hdr"}, "transform": [{"filter": "datum.row == 2 && datum.col != 'type' && datum.col != 'id'"}],
  "encoding": {"x": {"field": "col", "type": "nominal", "scale": {"type": "point", "domain": ["date","time","zone","cycle","details"], "padding": 0.525, "align": 0.206}, "axis": null}},
  "layer": [
   {"transform": [{"filter": "datum.col == 'details'"}], "mark": {"type": "point", "shape": "M-1,-0.31H1V0.31H-1Z", "size": 841, "filled": true, "fill": "#f6f9fc", "stroke": "#9fb0c2", "strokeWidth": 0.7, "opacity": 1}},
   {"mark": {"type": "text", "fontSize": 6.5, "color": "#444"}, "encoding": {"text": {"field": "text"}}}
  ]},
 {"width": 307, "height": 52, "view": {"stroke": "#a9a9a9"},
  "layer": [
   {"data": {"name": "zones"}, "transform": [{"filter": "datum.kind == 'band'"}], "mark": {"type": "rect", "fill": "#d6d6d6", "stroke": "#aaaaaa", "strokeWidth": 0.6},
    "encoding": {"x": {"datum": 0, "type": "quantitative", "scale": {"domain": [-1.5, 19], "nice": false, "zero": false}, "axis": null}, "x2": {"datum": 19}, "y": {"field": "lo", "type": "quantitative", "scale": {"domain": [150, 1250], "nice": false, "zero": false}, "axis": null}, "y2": {"field": "hi"}}},
   {"data": {"name": "zones"}, "transform": [{"filter": "datum.kind == 'dark'"}], "mark": {"type": "rule", "color": "#555", "strokeWidth": 1.5},
    "encoding": {"x": {"datum": 0, "type": "quantitative", "axis": null}, "x2": {"datum": 19}, "y": {"field": "ms", "type": "quantitative", "axis": null}}},
   {"data": {"name": "zones"}, "transform": [{"filter": "datum.kind == 'pink'"}], "mark": {"type": "rule", "color": "#e6b5b5", "strokeWidth": 1},
    "encoding": {"x": {"datum": 0, "type": "quantitative", "axis": null}, "x2": {"datum": 19}, "y": {"field": "ms", "type": "quantitative", "axis": null}}},
   {"data": {"name": "edge"}, "mark": {"type": "rule", "color": "#777", "strokeWidth": 1},
    "encoding": {"x": {"field": "t", "type": "quantitative", "axis": null}, "y": {"datum": 190, "type": "quantitative", "axis": null}, "y2": {"datum": 1130}}},
   {"data": {"name": "ylab"}, "mark": {"type": "text", "align": "right", "fontSize": 4.5, "color": "#777"},
    "encoding": {"x": {"datum": -0.3, "type": "quantitative", "axis": null}, "y": {"field": "ms", "type": "quantitative", "axis": null}, "text": {"field": "ms"}}},
   {"data": {"name": "plab"}, "mark": {"type": "text", "align": "left", "fontSize": 4, "color": "#666"},
    "encoding": {"x": {"field": "t", "type": "quantitative", "axis": null}, "y": {"field": "ms", "type": "quantitative", "axis": null}, "text": {"field": "text"}}},
   {"data": {"name": "box"}, "transform": [{"filter": "datum.row == 2"}], "mark": {"type": "rect", "fill": "#e3f1fb", "fillOpacity": 0.45, "stroke": "#5aaad9", "strokeWidth": 1},
    "encoding": {"x": {"field": "t0", "type": "quantitative", "axis": null}, "x2": {"field": "t1"}, "y": {"field": "lo", "type": "quantitative", "axis": null}, "y2": {"field": "hi"}}},
   {"data": {"name": "box"}, "transform": [{"filter": "datum.row == 2"}], "mark": {"type": "rule", "color": "#5aaad9", "strokeWidth": 1.3},
    "encoding": {"x": {"field": "t1", "type": "quantitative", "axis": null}}},
   {"data": {"name": "pts"}, "transform": [{"filter": "datum.row == 2 && datum.k == 'd'"}], "mark": {"type": "point", "shape": "M-1,-0.32H1V0.32H-1Z", "size": 36, "filled": true, "color": "#5a5a5a", "opacity": 1},
    "encoding": {"x": {"field": "t", "type": "quantitative", "axis": null}, "y": {"field": "ms", "type": "quantitative", "axis": null}}},
   {"data": {"name": "pts"}, "transform": [{"filter": "datum.row == 2 && datum.k == 'g'"}], "mark": {"type": "point", "shape": "M-1,-0.32H1V0.32H-1Z", "size": 30, "filled": true, "color": "#b5b5b5", "opacity": 1},
    "encoding": {"x": {"field": "t", "type": "quantitative", "axis": null}, "y": {"field": "ms", "type": "quantitative", "axis": null}}},
   {"data": {"name": "pts"}, "transform": [{"filter": "datum.row == 2 && datum.k == 'p'"}], "mark": {"type": "point", "shape": "square", "size": 8, "filled": true, "color": "#222", "opacity": 1},
    "encoding": {"x": {"field": "t", "type": "quantitative", "axis": null}, "y": {"field": "ms", "type": "quantitative", "axis": null}}}
  ]},
 {"width": 298, "height": 52,
  "layer": [
   {"data": {"name": "grid"}, "transform": [{"filter": "datum.dir == 'v'"}], "mark": {"type": "rule", "color": "#e4e4e4", "strokeDash": [1, 2]},
    "encoding": {"x": {"field": "t", "type": "quantitative", "scale": {"domain": [0, 2980], "nice": false, "zero": false}, "axis": null}}},
   {"data": {"name": "grid"}, "transform": [{"filter": "datum.dir == 'h'"}], "mark": {"type": "rule", "color": "#e4e4e4", "strokeDash": [1, 2]},
    "encoding": {"y": {"field": "v", "type": "quantitative", "scale": {"domain": [0, 5.2], "nice": false, "zero": false}, "axis": null}}},
   {"data": {"name": "edge"}, "mark": {"type": "rule", "color": "#666", "strokeWidth": 1.2},
    "encoding": {"x": {"field": "t", "type": "quantitative", "axis": null}}},
   {"data": {"name": "egm"}, "transform": [{"filter": "datum.row == 2"}], "mark": {"type": "line", "color": "#3a3a3a", "strokeWidth": 1, "clip": true},
    "encoding": {"x": {"field": "t", "type": "quantitative", "axis": null}, "y": {"field": "v", "type": "quantitative", "axis": null}, "detail": {"field": "ch"}}},
   {"data": {"name": "dots"}, "transform": [{"filter": "datum.row == 2"}], "mark": {"type": "point", "shape": "square", "size": 10, "filled": true, "color": "#111", "opacity": 1},
    "encoding": {"x": {"field": "t", "type": "quantitative", "axis": null}, "y": {"field": "v", "type": "quantitative", "axis": null}}},
   {"data": {"name": "elab"}, "transform": [{"filter": "datum.row == 2 && datum.k == 'l'"}], "mark": {"type": "text", "align": "left", "fontSize": 4.5, "color": "#6f86a6"},
    "encoding": {"x": {"field": "t", "type": "quantitative", "axis": null}, "y": {"field": "v", "type": "quantitative", "axis": null}, "text": {"field": "text"}}},
   {"data": {"name": "elab"}, "transform": [{"filter": "datum.row == 2 && datum.k == 'r'"}], "mark": {"type": "text", "align": "right", "fontSize": 4.5, "color": "#3d7fc0"},
    "encoding": {"x": {"field": "t", "type": "quantitative", "axis": null}, "y": {"field": "v", "type": "quantitative", "axis": null}, "text": {"field": "text"}}}
  ]},
 {"width": 307, "height": 16, "layer": [
   {"data": {"values": [{"lane": "top"}]}, "mark": {"type": "rule", "color": "#c4c4c4", "strokeWidth": 1.5},
    "encoding": {"y": {"field": "lane", "type": "nominal", "scale": {"type": "point", "domain": ["top","tick","num","pad"], "padding": 0}, "axis": null}}},
   {"data": {"name": "mk"}, "transform": [{"filter": "datum.row == 2 && datum.side == 'L' && datum.k == 'b'"}], "mark": {"type": "tick", "color": "#111", "size": 6, "thickness": 2.5, "opacity": 1},
    "encoding": {"x": {"field": "t", "type": "quantitative", "scale": {"domain": [-1.5, 19], "nice": false, "zero": false}, "axis": null}, "y": {"datum": "tick", "type": "nominal", "axis": null}}},
   {"data": {"name": "mk"}, "transform": [{"filter": "datum.row == 2 && datum.side == 'L' && datum.k == 'g'"}], "mark": {"type": "tick", "color": "#888", "size": 4, "thickness": 1, "opacity": 1},
    "encoding": {"x": {"field": "t", "type": "quantitative", "axis": null}, "y": {"datum": "tick", "type": "nominal", "axis": null}}}
 ]},
 {"width": 298, "height": 16, "layer": [
   {"data": {"values": [{"lane": "top"}]}, "mark": {"type": "rule", "color": "#c4c4c4", "strokeWidth": 1.5},
    "encoding": {"y": {"field": "lane", "type": "nominal", "scale": {"type": "point", "domain": ["top","tick","num","pad"], "padding": 0}, "axis": null}}},
   {"data": {"name": "mk"}, "transform": [{"filter": "datum.row == 2 && datum.side == 'R' && datum.k == 'b'"}], "mark": {"type": "tick", "color": "#111", "size": 6, "thickness": 2.5, "opacity": 1},
    "encoding": {"x": {"field": "t", "type": "quantitative", "scale": {"domain": [0, 2980], "nice": false, "zero": false}, "axis": null}, "y": {"datum": "tick", "type": "nominal", "axis": null}}},
   {"data": {"name": "mk"}, "transform": [{"filter": "datum.row == 2 && datum.side == 'R' && datum.k == 'g'"}], "mark": {"type": "tick", "color": "#888", "size": 4, "thickness": 1, "opacity": 1},
    "encoding": {"x": {"field": "t", "type": "quantitative", "axis": null}, "y": {"datum": "tick", "type": "nominal", "axis": null}}},
   {"data": {"name": "mk"}, "transform": [{"filter": "datum.row == 2 && datum.side == 'R' && datum.k == 'n'"}], "mark": {"type": "text", "color": "#888", "fontSize": 4.5, "baseline": "bottom"},
    "encoding": {"x": {"field": "t", "type": "quantitative", "axis": null}, "y": {"datum": "num", "type": "nominal", "axis": null}, "text": {"field": "lab"}}}
 ]},

 {"width": 309, "height": 14, "view": {"fill": "#e1eaf3"}, "data": {"name": "hdr"}, "transform": [{"filter": "datum.row == 3 && (datum.col == 'type' || datum.col == 'id')"}],
  "encoding": {"x": {"field": "col", "type": "nominal", "scale": {"type": "point", "domain": ["type","id"], "padding": 0.1035, "align": 0.0755}, "axis": null}},
  "layer": [
   {"transform": [{"filter": "datum.col == 'type'"}], "mark": {"type": "text", "align": "left", "fontSize": 7, "fontWeight": "bold", "color": "#444"}, "encoding": {"text": {"field": "text"}}},
   {"transform": [{"filter": "datum.col == 'id'"}], "mark": {"type": "text", "fontSize": 6.5, "color": "#444"}, "encoding": {"text": {"field": "text"}}}
  ]},
 {"width": 298, "height": 14, "view": {"fill": "#e1eaf3"}, "data": {"name": "hdr"}, "transform": [{"filter": "datum.row == 3 && datum.col != 'type' && datum.col != 'id'"}],
  "encoding": {"x": {"field": "col", "type": "nominal", "scale": {"type": "point", "domain": ["date","time","zone","cycle","details"], "padding": 0.525, "align": 0.206}, "axis": null}},
  "layer": [
   {"transform": [{"filter": "datum.col == 'details'"}], "mark": {"type": "point", "shape": "M-1,-0.31H1V0.31H-1Z", "size": 841, "filled": true, "fill": "#f6f9fc", "stroke": "#9fb0c2", "strokeWidth": 0.7, "opacity": 1}},
   {"mark": {"type": "text", "fontSize": 6.5, "color": "#444"}, "encoding": {"text": {"field": "text"}}}
  ]},
 {"width": 307, "height": 52, "view": {"stroke": "#a9a9a9"},
  "layer": [
   {"data": {"name": "zones"}, "transform": [{"filter": "datum.kind == 'band'"}], "mark": {"type": "rect", "fill": "#d6d6d6", "stroke": "#aaaaaa", "strokeWidth": 0.6},
    "encoding": {"x": {"datum": 0, "type": "quantitative", "scale": {"domain": [-1.5, 19], "nice": false, "zero": false}, "axis": null}, "x2": {"datum": 19}, "y": {"field": "lo", "type": "quantitative", "scale": {"domain": [150, 1250], "nice": false, "zero": false}, "axis": null}, "y2": {"field": "hi"}}},
   {"data": {"name": "zones"}, "transform": [{"filter": "datum.kind == 'dark'"}], "mark": {"type": "rule", "color": "#555", "strokeWidth": 1.5},
    "encoding": {"x": {"datum": 0, "type": "quantitative", "axis": null}, "x2": {"datum": 19}, "y": {"field": "ms", "type": "quantitative", "axis": null}}},
   {"data": {"name": "zones"}, "transform": [{"filter": "datum.kind == 'pink'"}], "mark": {"type": "rule", "color": "#e6b5b5", "strokeWidth": 1},
    "encoding": {"x": {"datum": 0, "type": "quantitative", "axis": null}, "x2": {"datum": 19}, "y": {"field": "ms", "type": "quantitative", "axis": null}}},
   {"data": {"name": "edge"}, "mark": {"type": "rule", "color": "#777", "strokeWidth": 1},
    "encoding": {"x": {"field": "t", "type": "quantitative", "axis": null}, "y": {"datum": 190, "type": "quantitative", "axis": null}, "y2": {"datum": 1130}}},
   {"data": {"name": "ylab"}, "mark": {"type": "text", "align": "right", "fontSize": 4.5, "color": "#777"},
    "encoding": {"x": {"datum": -0.3, "type": "quantitative", "axis": null}, "y": {"field": "ms", "type": "quantitative", "axis": null}, "text": {"field": "ms"}}},
   {"data": {"name": "plab"}, "mark": {"type": "text", "align": "left", "fontSize": 4, "color": "#666"},
    "encoding": {"x": {"field": "t", "type": "quantitative", "axis": null}, "y": {"field": "ms", "type": "quantitative", "axis": null}, "text": {"field": "text"}}},
   {"data": {"name": "box"}, "transform": [{"filter": "datum.row == 3"}], "mark": {"type": "rect", "fill": "#e3f1fb", "fillOpacity": 0.45, "stroke": "#5aaad9", "strokeWidth": 1},
    "encoding": {"x": {"field": "t0", "type": "quantitative", "axis": null}, "x2": {"field": "t1"}, "y": {"field": "lo", "type": "quantitative", "axis": null}, "y2": {"field": "hi"}}},
   {"data": {"name": "box"}, "transform": [{"filter": "datum.row == 3"}], "mark": {"type": "rule", "color": "#5aaad9", "strokeWidth": 1.3},
    "encoding": {"x": {"field": "t1", "type": "quantitative", "axis": null}}},
   {"data": {"name": "vbars"}, "transform": [{"filter": "datum.row == 3"}], "mark": {"type": "rule", "color": "#222", "strokeWidth": 1.3},
    "encoding": {"x": {"field": "t", "type": "quantitative", "axis": null}, "y": {"field": "lo", "type": "quantitative", "axis": null}, "y2": {"field": "hi"}}},
   {"data": {"name": "pts"}, "transform": [{"filter": "datum.row == 3 && datum.k == 'd'"}], "mark": {"type": "point", "shape": "M-1,-0.32H1V0.32H-1Z", "size": 36, "filled": true, "color": "#5a5a5a", "opacity": 1},
    "encoding": {"x": {"field": "t", "type": "quantitative", "axis": null}, "y": {"field": "ms", "type": "quantitative", "axis": null}}},
   {"data": {"name": "pts"}, "transform": [{"filter": "datum.row == 3 && datum.k == 'g'"}], "mark": {"type": "point", "shape": "square", "size": 5, "filled": true, "color": "#999", "opacity": 1},
    "encoding": {"x": {"field": "t", "type": "quantitative", "axis": null}, "y": {"field": "ms", "type": "quantitative", "axis": null}}},
   {"data": {"name": "pts"}, "transform": [{"filter": "datum.row == 3 && datum.k == 'p'"}], "mark": {"type": "point", "shape": "square", "size": 6, "filled": true, "color": "#222", "opacity": 1},
    "encoding": {"x": {"field": "t", "type": "quantitative", "axis": null}, "y": {"field": "ms", "type": "quantitative", "axis": null}}}
  ]},
 {"width": 298, "height": 52,
  "layer": [
   {"data": {"name": "grid"}, "transform": [{"filter": "datum.dir == 'v'"}], "mark": {"type": "rule", "color": "#e4e4e4", "strokeDash": [1, 2]},
    "encoding": {"x": {"field": "t", "type": "quantitative", "scale": {"domain": [0, 2980], "nice": false, "zero": false}, "axis": null}}},
   {"data": {"name": "grid"}, "transform": [{"filter": "datum.dir == 'h'"}], "mark": {"type": "rule", "color": "#e4e4e4", "strokeDash": [1, 2]},
    "encoding": {"y": {"field": "v", "type": "quantitative", "scale": {"domain": [0, 5.2], "nice": false, "zero": false}, "axis": null}}},
   {"data": {"name": "edge"}, "mark": {"type": "rule", "color": "#666", "strokeWidth": 1.2},
    "encoding": {"x": {"field": "t", "type": "quantitative", "axis": null}}},
   {"data": {"name": "egm"}, "transform": [{"filter": "datum.row == 3"}], "mark": {"type": "line", "color": "#3a3a3a", "strokeWidth": 1, "clip": true},
    "encoding": {"x": {"field": "t", "type": "quantitative", "axis": null}, "y": {"field": "v", "type": "quantitative", "axis": null}, "detail": {"field": "ch"}}},
   {"data": {"name": "dots"}, "transform": [{"filter": "datum.row == 3"}], "mark": {"type": "point", "shape": "square", "size": 10, "filled": true, "color": "#111", "opacity": 1},
    "encoding": {"x": {"field": "t", "type": "quantitative", "axis": null}, "y": {"field": "v", "type": "quantitative", "axis": null}}},
   {"data": {"name": "elab"}, "transform": [{"filter": "datum.row == 3 && datum.k == 'l'"}], "mark": {"type": "text", "align": "left", "fontSize": 4.5, "color": "#6f86a6"},
    "encoding": {"x": {"field": "t", "type": "quantitative", "axis": null}, "y": {"field": "v", "type": "quantitative", "axis": null}, "text": {"field": "text"}}},
   {"data": {"name": "elab"}, "transform": [{"filter": "datum.row == 3 && datum.k == 'r'"}], "mark": {"type": "text", "align": "right", "fontSize": 4.5, "color": "#3d7fc0"},
    "encoding": {"x": {"field": "t", "type": "quantitative", "axis": null}, "y": {"field": "v", "type": "quantitative", "axis": null}, "text": {"field": "text"}}}
  ]},
 {"width": 307, "height": 16, "layer": [
   {"data": {"values": [{"lane": "top"}]}, "mark": {"type": "rule", "color": "#c4c4c4", "strokeWidth": 1.5},
    "encoding": {"y": {"field": "lane", "type": "nominal", "scale": {"type": "point", "domain": ["top","tick","num","pad"], "padding": 0}, "axis": null}}},
   {"data": {"name": "mk"}, "transform": [{"filter": "datum.row == 3 && datum.side == 'L' && datum.k == 'b'"}], "mark": {"type": "tick", "color": "#111", "size": 6, "thickness": 2.5, "opacity": 1},
    "encoding": {"x": {"field": "t", "type": "quantitative", "scale": {"domain": [-1.5, 19], "nice": false, "zero": false}, "axis": null}, "y": {"datum": "tick", "type": "nominal", "axis": null}}}
 ]},
 {"width": 298, "height": 16, "layer": [
   {"data": {"values": [{"lane": "top"}]}, "mark": {"type": "rule", "color": "#c4c4c4", "strokeWidth": 1.5},
    "encoding": {"y": {"field": "lane", "type": "nominal", "scale": {"type": "point", "domain": ["top","tick","num","pad"], "padding": 0}, "axis": null}}},
   {"data": {"name": "mk"}, "transform": [{"filter": "datum.row == 3 && datum.side == 'R' && datum.k == 'b'"}], "mark": {"type": "tick", "color": "#111", "size": 6, "thickness": 2.5, "opacity": 1},
    "encoding": {"x": {"field": "t", "type": "quantitative", "scale": {"domain": [0, 2980], "nice": false, "zero": false}, "axis": null}, "y": {"datum": "tick", "type": "nominal", "axis": null}}}
 ]}
]
}
